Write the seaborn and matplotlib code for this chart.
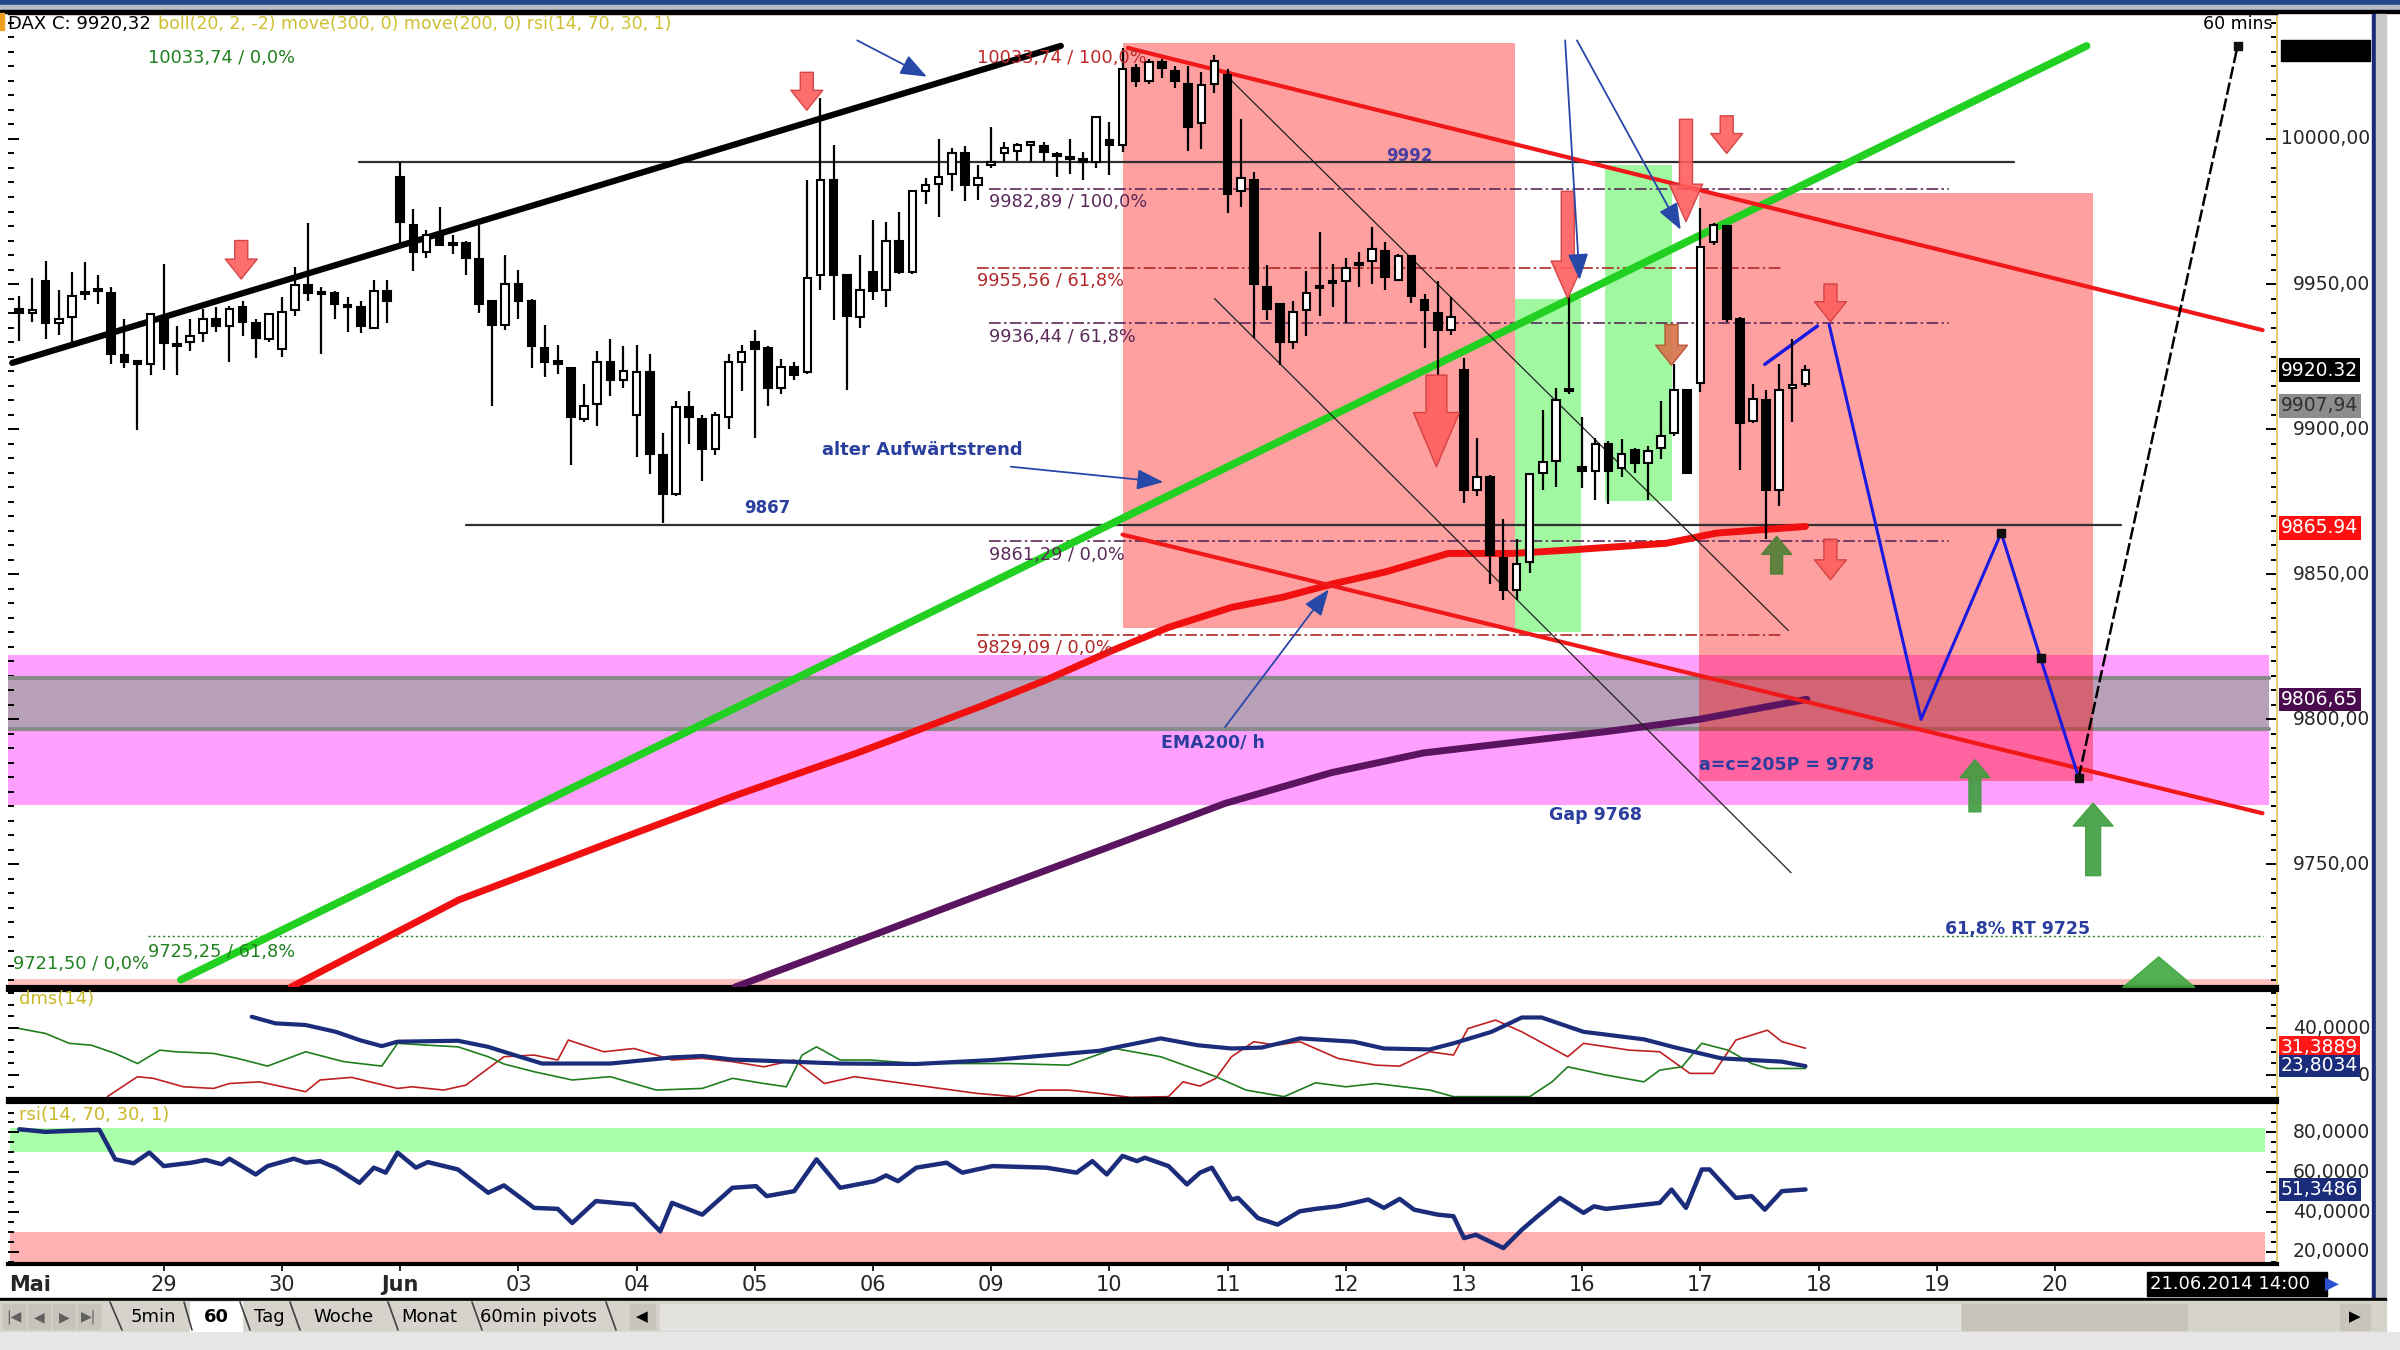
import numpy as np
import pandas as pd
import seaborn as sns
import matplotlib.pyplot as plt
import matplotlib.font_manager as fm
from matplotlib.patches import Rectangle
from matplotlib.lines import Line2D
from matplotlib.ticker import MultipleLocator
from matplotlib.transforms import blended_transform_factory

# ---- hourly DAX candles (9 bars per day, bar 0 = 27.05. 16:00) ----
candle_open = [9941.5, 9940, 9951, 9936.5, 9938.5, 9946.5, 9947.5, 9947, 9925.5, 9923,
               9922.5, 9938.5, 9929, 9930, 9933, 9938, 9935.5, 9942, 9936.5, 9931,
               9927.5, 9941, 9949.5, 9947, 9947, 9942.5, 9942, 9935, 9947.5, 9987,
               9970.5, 9961, 9967, 9963.5, 9964, 9958.5, 9944, 9936, 9950, 9944,
               9928, 9923, 9921, 9903.5, 9908.5, 9923, 9917, 9905, 9919.5, 9891,
               9877.5, 9907.5, 9903.5, 9893, 9904, 9923, 9930, 9928, 9914, 9921.5,
               9919.5, 9953, 9986, 9953, 9938.5, 9954, 9948, 9965, 9954, 9982,
               9984.5, 9988, 9995, 9984, 9991, 9995, 9996, 9998, 9997.5, 9994,
               9993, 9993, 9992, 9999.5, 9998, 10024.5, 10020, 10026.5, 10023.5, 10019,
               10005.5, 10019, 10022, 9982, 9986, 9949, 9943, 9930, 9941, 9948.5,
               9950.3, 9951, 9956.4, 9958, 9961.5, 9951.5, 9959.5, 9944.5, 9940, 9934,
               9920.5, 9879, 9883.5, 9855.5, 9844.5, 9854, 9885, 9889, 9913, 9887,
               9885.5, 9895, 9886.5, 9892.8, 9888.2, 9893.3, 9898.5, 9913.4, 9916, 9964.6,
               9970, 9938, 9902.8, 9910, 9879, 9914.2, 9915.6]
candle_high = [9946, 9952, 9958, 9948, 9954, 9957.5, 9953, 9949, 9938, 9923.5,
               9940, 9957, 9935.5, 9938, 9941.5, 9942, 9942.5, 9944, 9938, 9940,
               9945.5, 9956, 9971, 9949, 9947.5, 9945.5, 9944, 9951.5, 9951.5, 9992,
               9976, 9968.5, 9976.5, 9967, 9965, 9970.5, 9944.5, 9960, 9955, 9945,
               9936, 9929, 9921.5, 9915.5, 9927, 9931, 9928.5, 9929, 9926, 9898.5,
               9909.5, 9913, 9905, 9906, 9926, 9929, 9934, 9928.5, 9924, 9923,
               9986, 10014, 9998, 9953.5, 9960, 9972, 9971.5, 9975, 9982.5, 9986.5,
               10000, 9997, 9997.5, 9991, 10004, 9999, 9998.5, 9999, 9999, 9995.5,
               10000, 9995.5, 10008, 10006, 10031.5, 10026, 10027.5, 10027.5, 10025, 10025,
               10023, 10029, 10024, 10007, 9988.5, 9956.5, 9943.5, 9944, 9954.5, 9968,
               9957, 9959, 9961, 9969.5, 9964.5, 9960.5, 9960, 9946.5, 9951, 9945.5,
               9924.5, 9897, 9884, 9869, 9862, 9884.7, 9906.5, 9914, 9945.5, 9904,
               9897, 9896, 9896.5, 9893.5, 9894, 9909.5, 9922.5, 9913.5, 9976.3, 9971,
               9970.5, 9938.5, 9915.6, 9913.5, 9922.5, 9931, 9922]
candle_low = [9930.5, 9937, 9931, 9932.5, 9930, 9944.5, 9943, 9922.5, 9921, 9899.5,
              9918.5, 9920.5, 9918.5, 9927, 9930, 9933.5, 9923, 9932, 9924.5, 9930,
              9925, 9939, 9944, 9926, 9938, 9933.5, 9933, 9934.5, 9936.5, 9964,
              9954.5, 9959, 9963, 9960.5, 9953, 9940, 9908, 9934, 9938, 9921,
              9918, 9919, 9887.5, 9902.5, 9901, 9911.5, 9914, 9890.5, 9884.5, 9867.5,
              9877, 9895, 9882, 9891, 9900, 9913, 9897, 9908, 9912, 9917,
              9919, 9948, 9937.5, 9913.5, 9935, 9944.5, 9942, 9953.5, 9953.5, 9977.5,
              9973, 9982, 9978.5, 9979, 9990, 9992, 9992.5, 9992, 9992, 9987,
              9988, 9986, 9990, 9987.5, 9995.5, 10018, 10019, 10021, 10017.5, 9996,
              9996.5, 10016, 9974.5, 9976.5, 9931.5, 9937.5, 9922, 9927.5, 9932, 9939,
              9942, 9936.5, 9949, 9950, 9948, 9951, 9943.5, 9928, 9918.5, 9932.5,
              9874.5, 9877, 9846.5, 9841, 9841, 9850.5, 9879, 9880, 9912, 9879.5,
              9875.5, 9874, 9883.5, 9885, 9875.5, 9889.5, 9897.5, 9884.7, 9912.8, 9963.5,
              9937, 9886, 9902, 9862, 9873.3, 9902.5, 9914.5]
candle_close = [9940, 9941, 9936.5, 9938, 9946, 9947, 9947.5, 9926, 9923, 9922.5,
                9939.5, 9929.5, 9928.5, 9932, 9938, 9935.5, 9941.5, 9937, 9931.5, 9939.5,
                9940.5, 9949.5, 9947, 9946.5, 9943, 9942, 9935.5, 9947.5, 9944, 9971.5,
                9961, 9967, 9963.5, 9964, 9959, 9943, 9936, 9950, 9944, 9928.5,
                9923, 9922.5, 9904, 9908, 9923, 9917, 9920, 9919.5, 9891.5, 9877.5,
                9907.5, 9904, 9893, 9905, 9923, 9926.5, 9927.5, 9914, 9921.5, 9918.5,
                9952, 9986, 9953, 9939, 9948, 9947.5, 9965, 9954, 9982, 9984,
                9987, 9995, 9984, 9986.5, 9992, 9997, 9998, 9998.3, 9995.5, 9994.3,
                9993.3, 9992, 10007.5, 9998, 10024, 10020, 10026.5, 10024.5, 10020, 10004,
                10018.5, 10027, 9981, 9986.5, 9950, 9941.5, 9930, 9940.5, 9947, 9949,
                9950.8, 9955.5, 9957.4, 9962, 9952.5, 9959.5, 9946, 9941, 9934, 9938.5,
                9879, 9883.5, 9856.5, 9844.5, 9853.5, 9884.5, 9888.5, 9910, 9913.5, 9885.5,
                9895, 9885.5, 9891.5, 9888.2, 9892.5, 9897.5, 9913.4, 9884.7, 9962.6, 9970.3,
                9938, 9902, 9910.3, 9879, 9913.4, 9915.2, 9920.3]

day_labels = ['29', '30', 'Jun', '03', '04', '05', '06', '09', '10', '11', '12', '13',
              '16', '17', '18', '19', '20']
first_day_bar = 11
bars_per_day = 9

# moving averages (bar position, value)
ema200_x = [20.7, 33.5, 45.2, 54.5, 63.8, 73.1, 78.2, 83.1, 87.5, 92.3, 96.2, 100.1,
            104.0, 108.8, 113.7, 118.1, 125.4, 129.2, 136.0]
ema200_v = [9707.6, 9737.7, 9757.8, 9773.6, 9788.3, 9804.2, 9813.5, 9823.4, 9831.6,
            9838.5, 9842.0, 9846.7, 9850.7, 9857.1, 9857.1, 9858.3, 9860.6, 9864.1, 9866.4]
ema300_x = [54.5, 63.8, 73.1, 82.5, 91.8, 99.9, 106.9, 113.9, 120.9, 127.9, 136.1]
ema300_v = [9707.6, 9723.4, 9739.3, 9755.1, 9770.9, 9781.5, 9788.3, 9792.0, 9795.7,
            9799.9, 9806.8]

# dms(14)
adx_x = [17.7, 19.5, 21.8, 24.1, 25.9, 27.6, 28.8, 33.4, 35.7, 38.1, 39.8, 45.0, 49.7,
         52.0, 54.3, 62.5, 68.3, 74.1, 82.2, 86.9, 89.7, 92.3, 94.6, 97.5, 101.6, 103.9,
         107.4, 109.2, 112.1, 114.4, 115.9, 119.1, 123.7, 126.1, 129.6, 131.9, 134.2, 136.0]
adx_v = [44.8, 42.0, 41.3, 38.4, 34.9, 32.3, 34.2, 34.6, 32.0, 27.8, 24.9, 24.9, 27.5,
         28.1, 26.6, 24.9, 24.7, 26.4, 30.3, 35.6, 32.7, 31.3, 31.7, 35.6, 34.2, 31.3,
         30.9, 33.5, 38.4, 44.5, 44.5, 38.4, 35.2, 31.7, 27.1, 26.4, 25.7, 23.8]
pdi_x = [6.7, 9.0, 10.2, 12.5, 14.8, 16.0, 18.3, 21.8, 22.9, 25.3, 28.8, 29.9, 32.3, 34.0,
         35.7, 36.9, 39.2, 41.0, 41.8, 44.5, 46.8, 48.5, 49.7, 52.0, 54.3, 56.7, 59.0,
         61.3, 63.6, 68.3, 72.9, 75.8, 77.6, 79.9, 82.2, 84.6, 87.5, 88.6, 89.9, 91.1,
         92.3, 94.0, 95.7, 97.5, 100.4, 103.3, 105.1, 107.4, 109.2, 110.3, 112.4, 114.4,
         117.9, 119.1, 122.6, 124.9, 127.2, 129.0, 130.7, 133.1, 134.2, 136.0]
pdi_v = [10.8, 19.3, 18.6, 15.0, 14.3, 16.4, 17.1, 12.9, 17.9, 19.0, 14.3, 15.0, 13.6,
         15.7, 22.8, 27.8, 28.5, 26.4, 34.9, 29.9, 31.3, 28.5, 26.4, 27.1, 25.7, 23.5,
         26.4, 16.4, 19.3, 15.7, 12.2, 10.8, 13.6, 13.6, 12.2, 10.5, 10.8, 17.1, 15.3,
         18.6, 27.8, 34.2, 32.7, 34.2, 27.1, 24.2, 23.8, 29.9, 28.5, 39.8, 43.4, 38.4,
         27.8, 33.5, 30.6, 29.9, 20.7, 20.7, 34.9, 39.1, 34.2, 31.4]
mdi_x = [0.0, 2.0, 3.8, 5.5, 7.3, 9.0, 10.7, 11.9, 14.8, 16.6, 18.9, 21.8, 24.7, 27.6,
         28.8, 31.1, 33.4, 35.7, 36.9, 39.2, 42.1, 45.0, 48.5, 52.0, 54.3, 56.7, 58.4,
         59.6, 60.7, 62.5, 64.8, 68.3, 72.9, 75.3, 79.9, 83.4, 86.9, 89.9, 91.1, 93.4,
         96.3, 98.7, 101.0, 103.3, 107.4, 109.2, 115.0, 116.7, 117.9, 120.8, 123.7, 124.9,
         126.6, 128.1, 130.1, 131.9, 133.1, 136.0]
mdi_v = [39.8, 37.7, 33.5, 32.7, 29.2, 24.9, 30.6, 29.9, 29.2, 27.1, 23.8, 29.9, 25.7,
         23.8, 33.5, 32.7, 32.0, 27.8, 24.7, 21.4, 17.9, 19.3, 13.6, 14.3, 18.6, 16.4,
         15.0, 28.5, 32.0, 26.4, 26.4, 24.9, 24.9, 24.9, 24.2, 31.3, 27.8, 21.8, 19.3,
         13.6, 10.8, 16.7, 15.0, 16.4, 13.6, 10.8, 10.8, 17.1, 23.5, 20.0, 17.1, 22.1,
         23.5, 33.5, 30.6, 24.9, 22.8, 22.8]

# rsi(14)
rsi_x = [0.0, 2.0, 3.8, 6.1, 7.3, 8.7, 9.9, 11.0, 13.1, 14.2, 15.4, 16.0, 18.0, 18.9,
         20.9, 21.8, 22.9, 24.1, 25.9, 27.0, 27.9, 28.8, 30.2, 31.1, 33.4, 35.7, 36.9,
         39.2, 41.0, 42.1, 43.9, 46.8, 48.8, 49.7, 52.0, 54.3, 56.1, 56.9, 59.0, 60.7,
         62.5, 65.1, 66.0, 66.9, 68.3, 70.6, 71.8, 74.1, 78.2, 80.5, 81.7, 82.8, 84.0,
         85.1, 85.7, 87.5, 88.9, 89.9, 90.8, 92.3, 92.8, 94.3, 95.8, 97.5, 98.7, 100.4,
         101.6, 102.7, 103.9, 105.1, 106.2, 108.0, 109.2, 110.0, 110.9, 113.0, 114.4,
         115.6, 117.3, 119.1, 119.9, 120.8, 122.6, 124.9, 125.8, 126.9, 128.1, 128.7,
         130.7, 131.9, 132.9, 134.2, 136.0]
rsi_v = [81.6, 80.3, 80.8, 81.3, 66.5, 64.5, 69.9, 63.1, 64.8, 66.2, 64.0, 66.8, 58.9,
         63.1, 66.8, 64.8, 65.6, 62.3, 54.7, 62.3, 59.8, 69.9, 62.3, 65.1, 61.4, 49.7,
         53.4, 42.1, 41.6, 34.5, 45.5, 43.8, 30.3, 44.6, 38.7, 52.2, 53.0, 48.0, 50.5,
         66.5, 52.2, 55.5, 58.4, 55.5, 62.3, 64.8, 59.8, 63.1, 62.3, 59.8, 65.6, 58.9,
         68.2, 65.6, 67.3, 63.1, 53.9, 59.8, 62.3, 46.3, 47.1, 37.0, 33.7, 40.4, 41.6,
         42.9, 44.6, 46.3, 42.1, 46.6, 41.2, 38.7, 37.9, 26.9, 28.6, 21.9, 31.1, 37.9,
         47.1, 39.6, 42.9, 41.6, 42.9, 44.6, 51.3, 42.1, 61.4, 61.4, 47.1, 48.0, 41.2,
         50.5, 51.35]

# drawn trend lines (bar position, price)
black_trend_x, black_trend_v = [-0.54, 79.3], [9922.8, 10032.1]
green_trend_x, green_trend_v = [12.3, 157.4], [9710.1, 10032.1]
red_upper_x, red_upper_v = [84.4, 170.8], [10031.4, 9934.1]
red_lower_x, red_lower_v = [84.0, 170.8], [9863.6, 9767.5]
thin1_x, thin1_v = [92.1, 134.7], [10021.0, 9830.5]
thin2_x, thin2_v = [91.0, 134.9], [9945.0, 9747.0]
forecast_x = [137.8, 144.8, 150.9, 153.9, 156.8]
forecast_v = [9936.0, 9799.9, 9864.2, 9820.9, 9779.8]
target_x, target_v = [156.8, 168.9], [9779.8, 10032.1]
hlines_v = [9992, 9867]
hlines_x0 = [25.9, 34.0]
hlines_x1 = [151.9, 160.0]

fib_levels = [9982.89, 9955.56, 9936.44, 9861.29, 9829.09]
fib_x0 = [73.8, 72.9, 73.8, 73.8, 72.9]
fib_x1 = [146.9, 134.1, 146.9, 146.9, 134.1]
fib_labels = ['9982,89 / 100,0%', '9955,56 / 61,8%', '9936,44 / 61,8%',
              '9861,29 / 0,0%', '9829,09 / 0,0%']

red_zones = [(84.0, 113.9, 9831.5, 10033.1), (127.9, 157.9, 9778.7, 9981.4)]
green_zones = [(113.9, 118.9, 9829.9, 9945.0), (120.7, 125.8, 9875.3, 9990.9)]

# ---------------- drawing ----------------
sns.set_theme(style='white')
installed = {f.name for f in fm.fontManager.ttflist}
plt.rcParams['font.family'] = ['DejaVu Sans']
NARROW = 'Liberation Sans Narrow' if 'Liberation Sans Narrow' in installed else 'DejaVu Sans'
NS = 1.2 if NARROW != 'DejaVu Sans' else 1.0
FIB_FS = 12.8

fig = plt.figure(figsize=(24, 13.5), dpi=100)
fig.patch.set_facecolor('white')


def fx(px):
    return px / 2400


def fy(py):
    return 1 - py / 1350


def frect(x0, y0, x1, y1, **kw):
    fig.add_artist(Rectangle((fx(x0), fy(y1)), fx(x1) - fx(x0), fy(y0) - fy(y1),
                             transform=fig.transFigure, **kw))


def fline(x0, y0, x1, y1, **kw):
    fig.add_artist(Line2D([fx(x0), fx(x1)], [fy(y0), fy(y1)], transform=fig.transFigure, **kw))


# window chrome
frect(0, 0, 2400, 5, color='#26468A')
frect(0, 5, 2400, 10, color='#B4BCC8')
frect(0, 10, 2400, 13, color='black')
frect(0, 13, 4, 30, color='#F0A020')

X0, X1 = -0.86, 171.9
ax_p = fig.add_axes([fx(8), fy(987), fx(2277) - fx(8), fy(14) - fy(987)])
ax_d = fig.add_axes([fx(8), fy(1099), fx(2277) - fx(8), fy(990) - fy(1099)])
ax_r = fig.add_axes([fx(8), fy(1264), fx(2277) - fx(8), fy(1102) - fy(1264)])

for ax in (ax_p, ax_d, ax_r):
    ax.set_facecolor('white')
    for s in ('top', 'bottom'):
        ax.spines[s].set_color('black')
        ax.spines[s].set_linewidth(3)
    ax.spines['left'].set_visible(False)
    ax.spines['right'].set_color('#E2D070')
    ax.spines['right'].set_linewidth(1.5)
    ax.tick_params(axis='y', which='both', left=True, right=True, labelleft=False,
                   labelright=False, direction='in', color='black', width=1.4)
    ax.tick_params(axis='y', which='major', length=8)
    ax.tick_params(axis='y', which='minor', length=4)
    ax.tick_params(axis='x', bottom=False, labelbottom=False)
ax_p.spines['top'].set_linewidth(1)

# ---- price panel ----
axp = ax_p
axp.axhspan(9770.3, 9822.0, xmin=0, xmax=0.9963, color='#FFA0FF', lw=0, zorder=0)
axp.axhspan(9796.7, 9814.1, xmin=0, xmax=0.9963, color='#B9A0B9', lw=0, zorder=0.5)
for v in (9796.7, 9814.1):
    axp.axhline(v, xmax=0.9963, color='#8A8A8A', lw=3, zorder=0.6)
axp.axhspan(9707.6, 9710.3, color='#FFC0C0', lw=0, zorder=0)
for x0, x1, y0, y1 in red_zones:
    axp.add_patch(Rectangle((x0, y0), x1 - x0, y1 - y0, color='#FF0000', alpha=0.373, lw=0, zorder=1))
for x0, x1, y0, y1 in green_zones:
    axp.add_patch(Rectangle((x0, y0), x1 - x0, y1 - y0, color='#A0F8A0', lw=0, zorder=1))

# fibonacci levels
for i, (lv, a, b, lab) in enumerate(zip(fib_levels, fib_x0, fib_x1, fib_labels)):
    col = '#B02828' if i in (1, 4) else '#5A2A5A'
    axp.plot([a, b], [lv, lv], color=col, lw=1.2, ls=(0, (7, 2, 1.5, 2)), zorder=2)
    axp.text(a, lv - 4.6, lab, color=col, fontsize=FIB_FS, va='center', ha='left', zorder=8)
axp.plot([9.8, 170.8], [9725.25, 9725.25], color='#208020', lw=1, ls=(0, (1.5, 2)), zorder=2)

for v, a, b in zip(hlines_v, hlines_x0, hlines_x1):
    axp.plot([a, b], [v, v], color='#303030', lw=1.6, zorder=3)

sns.lineplot(x=ema200_x, y=ema200_v, ax=axp, color='#F01010', lw=5, zorder=3)
sns.lineplot(x=ema300_x, y=ema300_v, ax=axp, color='#5A1460', lw=5, zorder=3)
sns.lineplot(x=black_trend_x, y=black_trend_v, ax=axp, color='black', lw=4.5, zorder=4)
sns.lineplot(x=green_trend_x, y=green_trend_v, ax=axp, color='#22D022', lw=5.5, zorder=4)
sns.lineplot(x=red_upper_x, y=red_upper_v, ax=axp, color='#F01818', lw=3, zorder=4)
sns.lineplot(x=red_lower_x, y=red_lower_v, ax=axp, color='#F01818', lw=3, zorder=4)
sns.lineplot(x=thin1_x, y=thin1_v, ax=axp, color='#202020', lw=0.9, zorder=4)
sns.lineplot(x=thin2_x, y=thin2_v, ax=axp, color='#202020', lw=0.9, zorder=4)
sns.lineplot(x=[132.9, 136.9], y=[9922.3, 9935.5], ax=axp, color='#1A1AE0', lw=2.5, zorder=4)
sns.lineplot(x=forecast_x, y=forecast_v, ax=axp, color='#1A1AE0', lw=2.2, zorder=4)
sns.lineplot(x=target_x, y=target_v, ax=axp, color='black', lw=1.8, ls=(0, (5, 1.5)), zorder=4)
axp.scatter(forecast_x[2:] + [target_x[1]], forecast_v[2:] + [target_v[1]], marker='s',
            s=28, color='#101010', zorder=7)

# candles
df = pd.DataFrame({'o': candle_open, 'h': candle_high, 'l': candle_low, 'c': candle_close})
df['x'] = np.arange(len(df))
axp.vlines(df['x'], df['l'], df['h'], color='black', lw=1.6, zorder=5)
body_low = df[['o', 'c']].min(axis=1)
body_h = (df['c'] - df['o']).abs().clip(lower=0.8)
body_col = np.where(df['c'] >= df['o'], 'white', 'black')
axp.bar(df['x'], body_h, bottom=body_low, width=0.58, color=body_col, edgecolor='black',
        linewidth=1.5, zorder=6)

# arrows
arrow_styles = {
    'small': (20, 0.72, 1.15, 0.47),
    'tall': (20, 1.35, 1.2, 0.47),
    'big': (30, 1.3, 1.1, 0.5),
    'gmid': (20, 0.65, 1.08, 0.43),
    'gbig': (25, 0.66, 1.15, 0.43),
    'gwide': (40, 0.55, 1.3, 0.5),
}
red_arrows = [(16.9, 9965, 9951.7, 'small'), (59.96, 10023, 10009.9, 'small'),
              (130.0, 10008, 9995, 'small'), (137.9, 9950, 9937, 'small'),
              (137.9, 9862, 9848, 'small'), (126.9, 10006.8, 9971.5, 'tall'),
              (117.9, 9982, 9945, 'tall'), (107.9, 9918.6, 9887, 'big')]
green_arrows = [(133.8, 9850, 9863, 'gmid', '#4D7F33'), (148.9, 9768, 9786, 'gmid', '#3E9E3E'),
                (157.9, 9746, 9771, 'gbig', '#3E9E3E'), (162.9, 9707.8, 9718, 'gwide', '#3EA83E')]


def fat_arrow(x, y0, y1, kind, fc, ec):
    ms, hl, hw, tw = arrow_styles[kind]
    axp.annotate('', xy=(x, y1), xytext=(x, y0), zorder=7,
                 arrowprops=dict(arrowstyle=f'simple,head_length={hl},head_width={hw},tail_width={tw}',
                                 mutation_scale=ms, fc=fc, ec=ec, lw=1, alpha=0.9,
                                 shrinkA=0, shrinkB=0))


for x, a, b, k in red_arrows:
    fat_arrow(x, a, b, k, '#FF5E5E', '#D03C3C')
fat_arrow(125.8, 9936, 9922, 'small', '#D8704A', '#B05030')
for x, a, b, k, c in green_arrows:
    fat_arrow(x, a, b, k, c, c)


def thin_arrow(x0, y0, x1, y1):
    axp.annotate('', xy=(x1, y1), xytext=(x0, y0), zorder=7, annotation_clip=False,
                 arrowprops=dict(arrowstyle='-|>,head_length=0.9,head_width=0.35', color='#2848A8',
                                 lw=1.3, mutation_scale=18, shrinkA=0, shrinkB=0))


thin_arrow(63.8, 10034, 69.1, 10021.5)
thin_arrow(75.5, 9887, 87.1, 9881.7)
thin_arrow(91.8, 9797.2, 99.7, 9844.7)
thin_arrow(117.7, 10034, 118.8, 9951.4)
thin_arrow(118.6, 10034, 126.5, 9968.7)

# annotation texts
blue = '#2A3E9E'
bold_texts = [(61.1, 9892.7, 'alter Aufwärtstrend', 13), (86.9, 9792, 'EMA200/ h', 12.5),
              (127.9, 9784, 'a=c=205P = 9778', 12.5), (116.5, 9767, 'Gap 9768', 12.5),
              (146.6, 9727.5, '61,8% RT 9725', 12.5), (55.2, 9872.7, '9867', 12),
              (104.1, 9994, '9992', 12)]
for x, y, t, s in bold_texts:
    axp.text(x, y, t, color=blue if t != '9992' else '#4A40A0', fontsize=s,
             fontweight='bold', va='center', ha='left', zorder=8)
axp.text(72.9, 10027.9, '10033,74 / 100,0%', color='#C02828', fontsize=FIB_FS, va='center', zorder=8)
axp.text(9.8, 10027.9, '10033,74 / 0,0%', color='#208020', fontsize=FIB_FS, va='center', zorder=8)
axp.text(9.8, 9719.6, '9725,25 / 61,8%', color='#208020', fontsize=FIB_FS, va='center', zorder=8)
axp.text(-0.5, 9715.4, '9721,50 / 0,0%', color='#208020', fontsize=FIB_FS, va='center', zorder=8)

axp.set_xlim(X0, X1)
axp.set_ylim(9707.6, 10043.1)
axp.yaxis.set_major_locator(MultipleLocator(50))
axp.yaxis.set_minor_locator(MultipleLocator(5))
axp.set_xlabel('')
axp.set_ylabel('')

# right axis labels and value boxes
lab_x = (2370 - 8) / 2269
box_x = (2281 - 8) / 2269


def comma(v, d):
    return f'{v:.{d}f}'.replace('.', ',')


tp = blended_transform_factory(axp.transAxes, axp.transData)
for v in range(9750, 10001, 50):
    axp.text(lab_x, v, comma(v, 2), transform=tp, ha='right', va='center',
             fontsize=13.5 * NS, family=NARROW, clip_on=False)
price_boxes = [(9920.32, '9920.32', 'black', 'white'), (9907.94, '9907,94', '#8C8C8C', '#303030'),
               (9865.94, '9865.94', '#FF1010', 'white'), (9806.65, '9806,65', '#4A0A4E', 'white')]
for v, t, bg, fg in price_boxes:
    axp.text(box_x, v, t, transform=tp, ha='left', va='center', fontsize=13.5 * NS,
             family=NARROW, color=fg, clip_on=False, zorder=10,
             bbox=dict(boxstyle='square,pad=0.12', fc=bg, ec='none'))
axp.add_patch(Rectangle((box_x, 10026.8), (2370 - 2281) / 2269, 7.4, transform=tp,
                        color='black', clip_on=False, zorder=9))

# ---- dms panel ----
sns.lineplot(x=pdi_x, y=pdi_v, ax=ax_d, color='#C02020', lw=1.2)
sns.lineplot(x=mdi_x, y=mdi_v, ax=ax_d, color='#1E7E1E', lw=1.2)
sns.lineplot(x=adx_x, y=adx_v, ax=ax_d, color='#1A2C7A', lw=3)
ax_d.set_xlim(X0, X1)
ax_d.set_ylim(9.8, 56.2)
ax_d.yaxis.set_major_locator(MultipleLocator(20))
ax_d.yaxis.set_minor_locator(MultipleLocator(5))
ax_d.set_xlabel('')
ax_d.set_ylabel('')
td = blended_transform_factory(ax_d.transAxes, ax_d.transData)
ax_d.text(lab_x, 40, comma(40, 4), transform=td, ha='right', va='center',
          fontsize=13.5 * NS, family=NARROW, clip_on=False)
# the 20 label sits behind the value boxes, only its last digit shows
ax_d.text(lab_x, 19.6, '0', transform=td, ha='right', va='center',
          fontsize=13.5 * NS, family=NARROW, clip_on=False)
for v, t, bg in [(31.8, '31,3889', '#FF1818'), (23.9, '23,8034', '#1A2C7A')]:
    ax_d.text(box_x, v, t, transform=td, ha='left', va='center', fontsize=13.5 * NS,
              family=NARROW, color='white', clip_on=False, zorder=10,
              bbox=dict(boxstyle='square,pad=0.1', fc=bg, ec='none'))
ax_d.text(0.0, 52.5, 'dms(14)', color='#C8B828', fontsize=13 * NS, family=NARROW,
          va='center', ha='left')

# ---- rsi panel ----
ax_r.axhspan(70, 82, xmin=0.001, xmax=0.9947, color='#AAFFAA', lw=0, zorder=0)
ax_r.axhspan(13.9, 30, xmin=0.001, xmax=0.9947, color='#FFB0B0', lw=0, zorder=0)
sns.lineplot(x=rsi_x, y=rsi_v, ax=ax_r, color='#1A2C7A', lw=3.2)
ax_r.set_xlim(X0, X1)
ax_r.set_ylim(13.9, 95.3)
ax_r.yaxis.set_major_locator(MultipleLocator(20))
ax_r.yaxis.set_minor_locator(MultipleLocator(5))
ax_r.set_xlabel('')
ax_r.set_ylabel('')
tr = blended_transform_factory(ax_r.transAxes, ax_r.transData)
for v in (20, 40, 60, 80):
    ax_r.text(lab_x, v, comma(v, 4), transform=tr, ha='right', va='center',
              fontsize=13.5 * NS, family=NARROW, clip_on=False)
ax_r.text(box_x, 51.35, '51,3486', transform=tr, ha='left', va='center', fontsize=13.5 * NS,
          family=NARROW, color='white', clip_on=False, zorder=10,
          bbox=dict(boxstyle='square,pad=0.12', fc='#1A2C7A', ec='none'))
ax_r.text(0.0, 89.0, 'rsi(14, 70, 30, 1)', color='#C8B828', fontsize=13 * NS, family=NARROW,
          va='center', ha='left')

# date axis
tick_pos = [first_day_bar + bars_per_day * k for k in range(len(day_labels))]
ax_r.set_xticks(tick_pos)
ax_r.tick_params(axis='x', bottom=True, labelbottom=False, direction='out', length=5,
                 width=1.2, color='black')
tx = blended_transform_factory(ax_r.transData, ax_r.transAxes)
for p, lab in zip(tick_pos, day_labels):
    ax_r.text(p, -0.13, lab, transform=tx, ha='center', va='center', fontsize=15 * NS,
              family=NARROW, fontweight='bold' if lab == 'Jun' else 'normal', clip_on=False)
ax_r.text(-0.8, -0.13, 'Mai', transform=tx, ha='left', va='center', fontsize=15 * NS,
          family=NARROW, fontweight='bold', clip_on=False)

# header texts
fig.text(fx(8), fy(24), 'DAX C: 9920,32', fontsize=13 * NS, family=NARROW, va='center', color='black')
fig.text(fx(158), fy(24), 'boll(20, 2, -2) move(300, 0) move(200, 0) rsi(14, 70, 30, 1)',
         fontsize=12.5 * NS, family=NARROW, va='center', color='#CCC030')
fig.text(fx(2238), fy(24), '60 mins', fontsize=12.5 * NS, family=NARROW, va='center',
         ha='center', color='black')

# right frame, date box and tab bar
frect(2372, 14, 2376, 1300, color='#1A2A7A')
frect(2376, 14, 2386, 1300, color='#C8C8C8')
frect(2147, 1272, 2327, 1296, color='black')
fig.text(fx(2150), fy(1284), '21.06.2014 14:00', color='white', fontsize=13 * NS,
         family=NARROW, va='center')
fig.text(fx(2325), fy(1284), '▶', color='#2A50D0', fontsize=13, va='center')
frect(0, 1298, 2386, 1301, color='black')
frect(0, 1301, 2386, 1332, color='#D6D3CC')
frect(0, 1332, 2400, 1350, color='#E6E6E6')
for i, g in enumerate(['|◀', '◀', '▶', '▶|']):
    frect(3 + 25 * i, 1304, 25 + 25 * i, 1329, color='#C8C4BC')
    fig.text(fx(14 + 25 * i), fy(1317), g, fontsize=10, ha='center', va='center', color='#606060')
frect(190, 1302, 242, 1331, color='white')
tab_edges = [(110, 122), (184, 192), (240, 250), (290, 300), (388, 398), (472, 482), (606, 616)]
for a, b in tab_edges:
    fline(a, 1302, b, 1330, color='#404040', lw=1.2)
tabs = [(153, '5min'), (216, '60'), (269, 'Tag'), (343, 'Woche'), (429, 'Monat'), (539, '60min pivots')]
for x, t in tabs:
    fig.text(fx(x), fy(1317), t, fontsize=13 * NS, family=NARROW, ha='center', va='center',
             fontweight='bold' if t == '60' else 'normal', color='black')
frect(630, 1304, 655, 1329, color='#C8C4BC')
fig.text(fx(642), fy(1317), '◀', fontsize=11, ha='center', va='center', color='black')
frect(660, 1304, 1960, 1330, color='#E4E2DE')
frect(1962, 1304, 2187, 1330, color='#C8C4BC')
frect(2340, 1304, 2370, 1330, color='#C8C4BC')
fig.text(fx(2355), fy(1317), '▶', fontsize=11, ha='center', va='center', color='black')

fig.savefig('out.png', dpi=100, facecolor='white')
